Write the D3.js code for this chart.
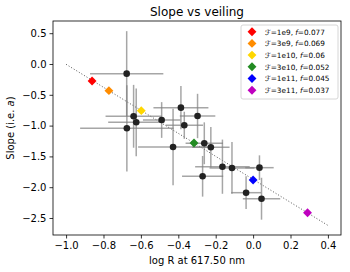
<!DOCTYPE html>
<html><head><meta charset="utf-8">
<script src="https://cdn.jsdelivr.net/npm/d3@7"></script>
<style>body{margin:0;background:#fff}svg{display:block;font-family:"DejaVu Sans",sans-serif}</style>
</head><body><svg id="c" width="350" height="272"></svg>
<script>
// observed points (log R, slope) with errors
const obsX  = [-0.676,-0.639,-0.625,-0.675,-0.489,-0.386,-0.297,-0.368,-0.428,-0.261,-0.226,-0.164,-0.113,-0.270,0.034,-0.0375,0.045];
const obsY  = [-0.157,-0.849,-0.946,-1.044,-0.909,-0.709,-0.844,-0.995,-1.347,-1.287,-1.351,-1.667,-1.688,-1.823,-1.683,-2.089,-2.187];
const obsXe = [0.196,0.15,0.15,0.25,0.10,0.147,0.095,0.10,0.187,0.10,0.10,0.146,0.12,0.11,0.076,0.08,0.10];
const obsYe = [0.69,0.51,0.55,0.70,0.29,0.35,0.36,0.22,0.62,0.34,0.33,0.44,0.42,0.33,0.20,0.265,0.34];
// model diamonds
const modX = [-0.861,-0.771,-0.598,-0.316,0.0,0.291];
const modY = [-0.276,-0.433,-0.758,-1.282,-1.883,-2.414];
const modF = ["1e9","3e9","1e10","3e10","1e11","3e11"];
const modf = ["0.077","0.069","0.06","0.052","0.045","0.037"];
const modColors = ["#ff0000","#ff8c00","#ffd700","#228b22","#0000ff","#bf00bf"];
// dotted trend line
const lineX = [-1.0, 0.4];
const lineY = [-0.005, -2.62];
const xTicks = [-1.0,-0.8,-0.6,-0.4,-0.2,0.0,0.2,0.4];
const yTicks = [0.5,0.0,-0.5,-1.0,-1.5,-2.0,-2.5];

const svg = d3.select("#c");
const L=53, R=341, T=21, B=235;
const x = d3.scaleLinear().domain([-1.07,0.47]).range([L,R]);
const y = d3.scaleLinear().domain([-2.776,0.698]).range([B,T]);
const fmt = v => d3.format(".1f")(v).replace("-","\u2212");

const g = svg.append("g");
// trend line
g.append("path").attr("d", d3.line()(lineX.map((v,i)=>[x(v),y(lineY[i])])))
  .attr("stroke","#555").attr("stroke-width",1).attr("stroke-dasharray","1,2").attr("fill","none");
// error bars
const eb = g.append("g").attr("stroke","#808080").attr("stroke-opacity",0.7).attr("stroke-width",1.5);
obsX.forEach((v,i)=>{
  eb.append("line").attr("x1",x(v-obsXe[i])).attr("x2",x(v+obsXe[i])).attr("y1",y(obsY[i])).attr("y2",y(obsY[i]));
  eb.append("line").attr("x1",x(v)).attr("x2",x(v)).attr("y1",y(obsY[i]-obsYe[i])).attr("y2",y(obsY[i]+obsYe[i]));
});
// dots
g.selectAll("circle.o").data(obsX).join("circle").attr("cx",d=>x(d)).attr("cy",(d,i)=>y(obsY[i]))
  .attr("r",3.3).attr("fill","#222");
// diamonds
const dsym = d3.symbol().type(d3.symbolDiamond2).size(50);
g.selectAll("path.m").data(modX).join("path").attr("transform",(d,i)=>`translate(${x(d)},${y(modY[i])})`)
  .attr("d",dsym).attr("fill",(d,i)=>modColors[i]);

// axes
const xa = svg.append("g").attr("transform",`translate(0,${B})`).call(d3.axisBottom(x).tickValues(xTicks).tickFormat(fmt).tickSizeOuter(0).tickSize(3.5).tickPadding(3));
const ya = svg.append("g").attr("transform",`translate(${L},0)`).call(d3.axisLeft(y).tickValues(yTicks).tickFormat(fmt).tickSizeOuter(0).tickSize(3.5).tickPadding(3));
[xa,ya].forEach(a=>{a.select(".domain").remove(); a.selectAll("text").attr("font-size",10).attr("fill","#000").attr("font-family","DejaVu Sans"); a.selectAll("line").attr("stroke","#000").attr("stroke-width",0.8);});
svg.append("rect").attr("x",L).attr("y",T).attr("width",R-L).attr("height",B-T).attr("fill","none").attr("stroke","#000").attr("stroke-width",0.8);

// title, labels
svg.append("text").attr("x",(L+R)/2).attr("y",16).attr("text-anchor","middle").attr("font-size",12).text("Slope vs veiling");
svg.append("text").attr("x",(L+R)/2).attr("y",264).attr("text-anchor","middle").attr("font-size",10).text("log R at 617.50 nm");
const yl = svg.append("text").attr("transform",`translate(14,${(T+B)/2}) rotate(-90)`).attr("text-anchor","middle").attr("font-size",10);
yl.append("tspan").text("Slope (i.e. ");
yl.append("tspan").attr("font-style","italic").text("a");
yl.append("tspan").text(")");

// legend
const lg = svg.append("g");
lg.append("rect").attr("x",241).attr("y",25).attr("width",97).attr("height",74).attr("rx",2)
  .attr("fill","#fff").attr("fill-opacity",0.8).attr("stroke","#ccc").attr("stroke-width",0.8);
modF.forEach((F,i)=>{
  const yy = 31.7 + i*11.7;
  lg.append("path").attr("transform",`translate(252,${yy})`).attr("d",dsym).attr("fill",modColors[i]);
  const t = lg.append("text").attr("x",265).attr("y",yy+2.8).attr("font-size",7.3);
  t.append("tspan").attr("font-style","italic").text("\u2131");
  t.append("tspan").text("="+F+", ");
  t.append("tspan").attr("font-style","italic").text("f");
  t.append("tspan").text("="+modf[i]);
});
</script></body></html>
